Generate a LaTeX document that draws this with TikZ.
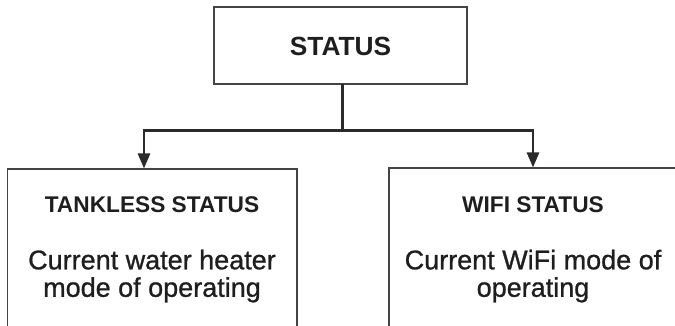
\documentclass[tikz,border=0pt]{standalone}
\usepackage{fontspec}
\setmainfont{Liberation Sans}
\newfontfamily\bodyfont[FakeBold=0.9]{Liberation Sans}
\usetikzlibrary{arrows.meta,calc}
\definecolor{txt}{HTML}{1E1E1E}
\definecolor{ln}{HTML}{2B2B2B}
\definecolor{bx}{HTML}{444444}
\tikzset{
  box/.style={draw=bx, line width=1.4pt, rectangle, inner sep=0pt},
  conn/.style={draw=ln, line width=2.6pt},
  arr/.style={conn, -{Triangle[length=15pt,width=12pt]}},
  titletxt/.style={text=txt, font=\bfseries\fontsize{26.3}{28}\selectfont, inner sep=0pt, anchor=base},
  headtxt/.style={text=txt, font=\bfseries\fontsize{22.7}{24}\selectfont, inner sep=0pt, anchor=base},
  bodytxt/.style={text=txt, font=\bodyfont\fontsize{27}{28}\selectfont, inner sep=0pt, anchor=base}
}
\begin{document}
\begin{tikzpicture}[x=1pt,y=-1pt]
\useasboundingbox (0,0) rectangle (675,326);
% boxes
\node[box, minimum width=253pt, minimum height=77pt] (top) at (340.5,45.5) {};
\node[box, minimum width=289.5pt, minimum height=220pt] (left) at (152.25,279) {};
\node[box, minimum width=300pt, minimum height=220pt] (right) at (539,278) {};
% texts
\node[titletxt] (ttop) at (340.5,56) {STATUS};
\node[headtxt] (hl) at (152,212.3) {TANKLESS STATUS};
\node[bodytxt] (bl1) at (152,269.3) {Current water heater};
\node[bodytxt] (bl2) at (152,296.8) {mode of operating};
\node[headtxt] (hr) at (533,212.3) {WIFI STATUS};
\node[bodytxt] (br1) at (533,269.3) {Current WiFi mode of};
\node[bodytxt] (br2) at (533,296.8) {operating};
% connectors
\coordinate (s) at (342.5,84);
\coordinate (j) at (342.5,130.5);
\coordinate (la) at (144,130.5);
\coordinate (ra) at (533,130.5);
\coordinate (lt) at (144,168.5);
\coordinate (rt) at (533,167.5);
\draw[conn] (s) -- (j);
\draw[conn, line cap=rect] (la) -- (ra);
\draw[arr] (la) -- (lt);
\draw[arr] (ra) -- (rt);
\end{tikzpicture}
\end{document}
